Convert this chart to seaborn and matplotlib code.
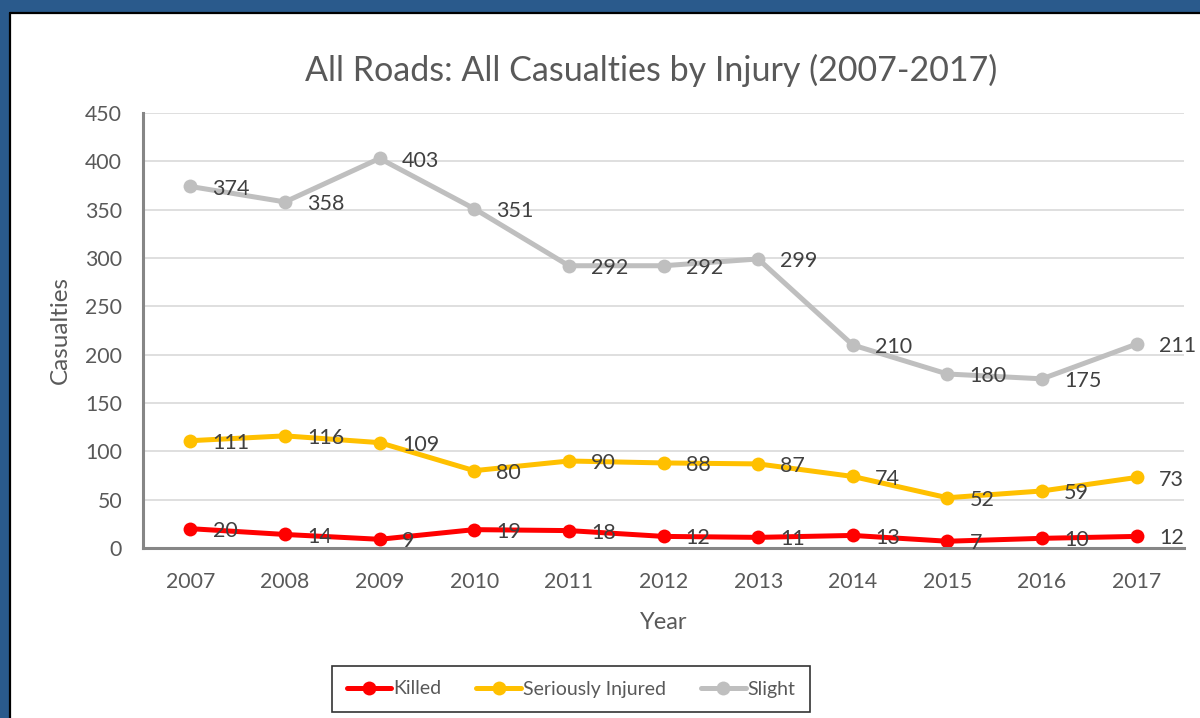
import matplotlib
matplotlib.use("Agg")
import matplotlib.pyplot as plt
import seaborn as sns
import pandas as pd
from matplotlib.patches import Rectangle
from matplotlib.lines import Line2D

years = [2007, 2008, 2009, 2010, 2011, 2012, 2013, 2014, 2015, 2016, 2017]
killed = [20, 14, 9, 19, 18, 12, 11, 13, 7, 10, 12]
serious = [111, 116, 109, 80, 90, 88, 87, 74, 52, 59, 73]
slight = [374, 358, 403, 351, 292, 292, 299, 210, 180, 175, 211]
series_names = ["Killed", "Seriously Injured", "Slight"]
colors = ["#FF0000", "#FFC000", "#BFBFBF"]
y_ticks = [0, 50, 100, 150, 200, 250, 300, 350, 400, 450]

sns.set_theme(style="white")
plt.rcParams["font.family"] = ["Lato", "DejaVu Sans"]
TXT = "#595959"
LBL = "#404040"

rows = []
for name, vals in zip(series_names, [killed, serious, slight]):
    for y, v in zip(years, vals):
        rows.append({"Year": y, "Casualties": v, "Injury": name})
df = pd.DataFrame(rows)

fig = plt.figure(figsize=(12, 7.18), dpi=100)
fig.patch.set_facecolor("#2A5A8C")
W, H = 1200, 718
fig.patches.append(Rectangle((11 / W, 0), 1, (H - 14) / H, transform=fig.transFigure,
                             facecolor="white", edgecolor="none", zorder=-5))
fig.lines.append(Line2D([10 / W, 10 / W], [0, (H - 13) / H], transform=fig.transFigure,
                        color="black", lw=1.6, zorder=-4))
fig.lines.append(Line2D([10 / W, 1], [(H - 13) / H, (H - 13) / H], transform=fig.transFigure,
                        color="black", lw=1.6, zorder=-4))

ax = fig.add_axes([143 / W, (H - 548) / H, (1184 - 143) / W, (548 - 113) / H])
ax.set_facecolor("white")

sns.lineplot(data=df, x="Year", y="Casualties", hue="Injury", hue_order=series_names,
             palette=colors, marker="o", markersize=10, markeredgewidth=0,
             linewidth=3.6, ax=ax, legend=True)

for name, vals, c in zip(series_names, [killed, serious, slight], colors):
    for y, v in zip(years, vals):
        ax.annotate(str(v), (y, v), xytext=(16, -1.5), textcoords="offset points",
                    ha="left", va="center", fontsize=15.5, color=LBL)

ax.set_xlim(2006.5, 2017.5)
ax.set_ylim(0, 450)
ax.set_yticks(y_ticks)
ax.set_xticks(years)
ax.set_xticklabels([str(y) for y in years])
ax.grid(axis="y", color="#D9D9D9", lw=1.2)
ax.grid(axis="x", visible=False)
ax.set_axisbelow(True)
for s in ["top", "right"]:
    ax.spines[s].set_visible(False)
for s in ["left", "bottom"]:
    ax.spines[s].set_color("#868686")
    ax.spines[s].set_linewidth(2.2)
ax.tick_params(axis="both", length=0, labelsize=15.3, labelcolor=TXT)
ax.tick_params(axis="y", pad=15)
ax.tick_params(axis="x", pad=17)
ax.set_xlabel("Year", fontsize=17, color=TXT, labelpad=15)
ax.set_ylabel("Casualties", fontsize=17.5, color=TXT, labelpad=10)
fig.text(651 / W, (H - 70) / H, "All Roads: All Casualties by Injury (2007-2017)",
         ha="center", va="center", fontsize=24.5, color=TXT)

handles, labels = ax.get_legend_handles_labels()
ax.get_legend().remove()
leg = fig.legend(handles, labels, loc="center", bbox_to_anchor=(571 / W, (H - 689) / H),
                 ncol=3, frameon=True, fancybox=False, fontsize=14, handlelength=2.3,
                 columnspacing=1.8, handletextpad=0.1, borderpad=0.75, borderaxespad=0)
leg.get_frame().set_edgecolor("black")
leg.get_frame().set_linewidth(1.2)
for t in leg.get_texts():
    t.set_color(TXT)

fig.savefig("out.png", dpi=100, facecolor=fig.get_facecolor())
